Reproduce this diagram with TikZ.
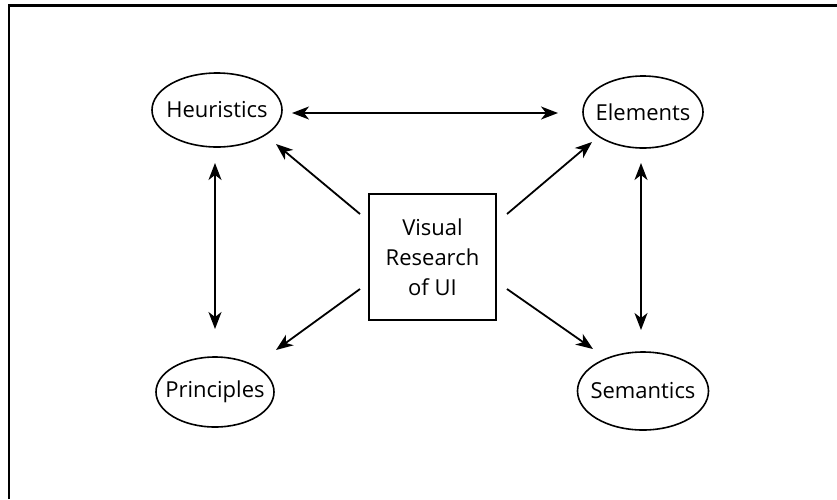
\documentclass[tikz,border=0pt]{standalone}
\usepackage{fontspec}
\setmainfont{Open Sans}
\usetikzlibrary{arrows.meta,shapes.geometric}
\begin{document}
\begin{tikzpicture}[x=1pt,y=-1pt,
  oval/.style={ellipse,draw,line width=1.6pt,inner sep=0pt,
    label={[font=\fontsize{22}{26}\selectfont]center:#1}},
  tip/.tip={Stealth[length=17pt,width=13pt,inset=5pt]},
  arr/.style={line width=1.8pt,-tip},
  darr/.style={line width=1.8pt,tip-tip}]
\useasboundingbox (0,0) rectangle (837,499);
\draw[line width=2.2pt] (9,499) -- (9,5.5) -- (837,5.5);
\node[oval=Heuristics,minimum width=130pt,minimum height=74pt] (heu) at (217,110) {};
\node[oval=Elements,minimum width=120pt,minimum height=72pt] (ele) at (643,112) {};
\node[oval=Principles,minimum width=118pt,minimum height=70pt] (pri) at (215,392) {};
\node[oval=Semantics,minimum width=131pt,minimum height=78pt] (sem) at (643,391) {};
\node[draw,line width=1.6pt,minimum width=127pt,minimum height=126pt,align=center,
  font=\fontsize{22}{30}\selectfont] (vr) at (432.5,257) {Visual\\Research\\of UI};
\coordinate (hl) at (292,113); \coordinate (hr) at (558,113);
\draw[darr] (hl) -- (hr);
\coordinate (pt) at (215,163); \coordinate (pb) at (215,329);
\draw[darr] (pt) -- (pb);
\coordinate (st) at (641,163); \coordinate (sb) at (641,330);
\draw[darr] (st) -- (sb);
\coordinate (a1) at (360,214); \coordinate (b1) at (276,144);
\draw[arr] (a1) -- (b1);
\coordinate (a2) at (507,214); \coordinate (b2) at (592,142);
\draw[arr] (a2) -- (b2);
\coordinate (a3) at (360,289); \coordinate (b3) at (276,350);
\draw[arr] (a3) -- (b3);
\coordinate (a4) at (507,289); \coordinate (b4) at (593,349);
\draw[arr] (a4) -- (b4);
\end{tikzpicture}
\end{document}
